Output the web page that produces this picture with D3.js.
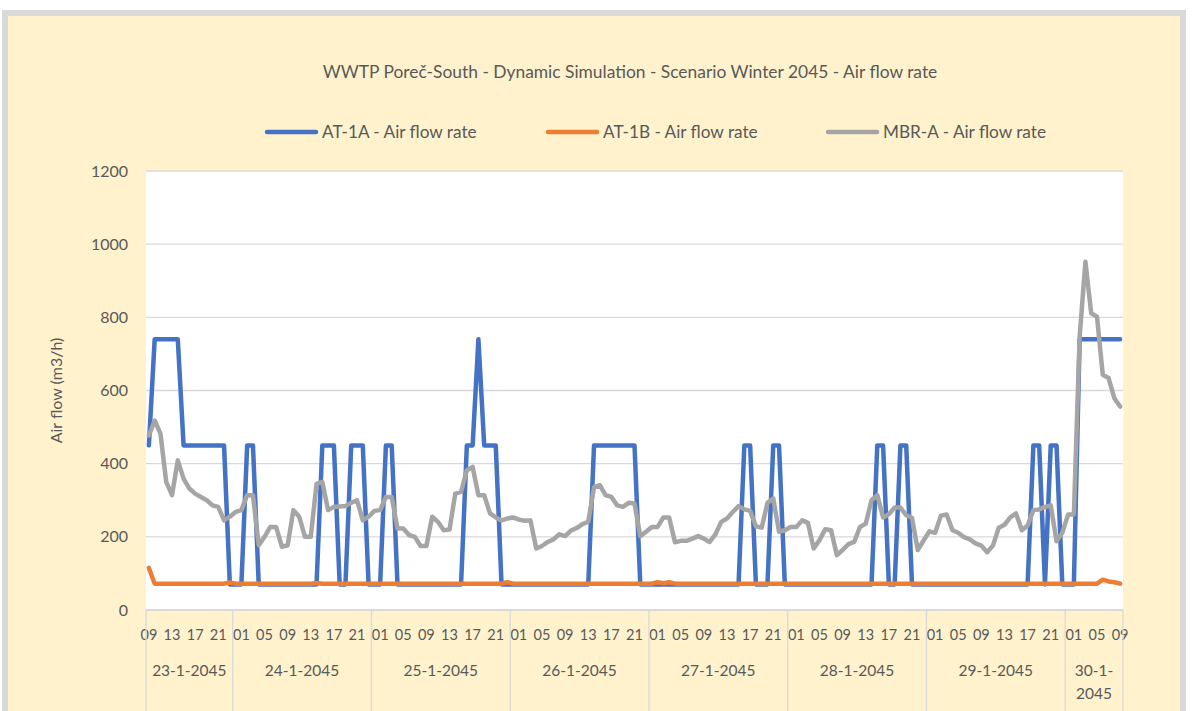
<!DOCTYPE html>
<html>
<head>
<meta charset="utf-8">
<script src="https://cdn.jsdelivr.net/npm/d3@7"></script>
<style>
  body { margin: 0; background: #ffffff; }
  text { font-family: Lato, "Open Sans", sans-serif; fill: #595959; }
</style>
</head>
<body>
<svg id="chart" width="1192" height="711"></svg>
<script>
// categories: hourly from 23-1-2045 09:00 to 30-1-2045 09:00
var days = ["23-1-2045", "24-1-2045", "25-1-2045", "26-1-2045", "27-1-2045", "28-1-2045", "29-1-2045", "30-1-2045"];
var firstHour = 9, lastHour = 9;
var yTicks = [0, 200, 400, 600, 800, 1000, 1200];

var seriesNames = ["AT-1A - Air flow rate", "AT-1B - Air flow rate", "MBR-A - Air flow rate"];
var seriesColors = ["#4472C4", "#ED7D31", "#A5A5A5"];

var at1a = [
  450, 740, 740, 740, 740, 740, 450, 450, 450, 450, 450, 450, 450, 450, 70, 70,
  70, 450, 450, 70, 70, 70, 70, 70, 70, 70, 70, 70, 70, 70, 450, 450,
  450, 70, 70, 450, 450, 450, 70, 70, 70, 450, 450, 70, 70, 70, 70, 70,
  70, 70, 70, 70, 70, 70, 70, 450, 450, 740, 450, 450, 450, 70, 70, 70,
  70, 70, 70, 70, 70, 70, 70, 70, 70, 70, 70, 70, 70, 450, 450, 450,
  450, 450, 450, 450, 450, 70, 70, 70, 70, 70, 70, 70, 70, 70, 70, 70,
  70, 70, 70, 70, 70, 70, 70, 450, 450, 70, 70, 70, 450, 450, 70, 70,
  70, 70, 70, 70, 70, 70, 70, 70, 70, 70, 70, 70, 70, 70, 450, 450,
  70, 70, 450, 450, 70, 70, 70, 70, 70, 70, 70, 70, 70, 70, 70, 70,
  70, 70, 70, 70, 70, 70, 70, 70, 70, 450, 450, 70, 450, 450, 70, 70,
  70, 740, 740, 740, 740, 740, 740, 740, 740
];

var at1b = [
  115, 72, 72, 72, 72, 72, 72, 72, 72, 72, 72, 72, 72, 72, 75, 72,
  72, 72, 72, 72, 72, 72, 72, 72, 72, 72, 72, 72, 72, 74, 72, 72,
  72, 72, 72, 72, 72, 72, 72, 72, 72, 72, 72, 72, 72, 72, 72, 72,
  72, 72, 72, 72, 72, 72, 72, 72, 72, 72, 72, 72, 72, 72, 76, 72,
  72, 72, 72, 72, 72, 72, 72, 72, 72, 72, 72, 72, 72, 72, 72, 72,
  72, 72, 72, 72, 72, 72, 72, 72, 76, 73, 76, 72, 72, 72, 72, 72,
  72, 72, 72, 72, 72, 72, 72, 72, 72, 72, 72, 72, 72, 72, 72, 72,
  72, 72, 72, 72, 72, 72, 72, 72, 72, 72, 72, 72, 72, 72, 72, 72,
  72, 72, 72, 72, 72, 72, 72, 72, 72, 72, 72, 72, 72, 72, 72, 72,
  72, 72, 72, 72, 72, 72, 72, 72, 72, 72, 72, 72, 72, 72, 72, 72,
  72, 72, 72, 72, 72, 83, 78, 76, 72
];

var mbrA = [
  477, 518, 482, 350, 314, 409, 359, 332, 318, 309, 300, 286, 282, 245, 255, 268,
  273, 314, 314, 177, 200, 227, 227, 173, 177, 273, 255, 200, 200, 345, 350, 273,
  282, 283, 284, 293, 300, 245, 255, 271, 273, 309, 309, 223, 223, 205, 200, 175,
  175, 255, 241, 218, 220, 318, 323, 382, 391, 314, 314, 264, 253, 245, 250, 253,
  247, 244, 245, 168, 175, 186, 193, 207, 202, 217, 224, 235, 241, 336, 341, 314,
  309, 286, 282, 293, 291, 202, 214, 227, 227, 253, 253, 185, 189, 189, 195, 202,
  195, 186, 207, 241, 250, 268, 284, 275, 271, 229, 225, 293, 305, 214, 218, 227,
  227, 245, 238, 168, 191, 221, 218, 150, 164, 180, 186, 227, 236, 300, 314, 253,
  262, 280, 280, 259, 252, 164, 190, 215, 211, 258, 261, 218, 211, 199, 193, 182,
  176, 158, 176, 225, 233, 253, 264, 218, 231, 273, 275, 282, 286, 188, 211, 261,
  261, 747, 952, 811, 802, 643, 634, 579, 556
];

// build hourly categories
var cats = [];
days.forEach(function (d, di) {
  var h0 = di === 0 ? firstHour : 0;
  var h1 = di === days.length - 1 ? lastHour : 23;
  for (var h = h0; h <= h1; h++) cats.push({ day: d, hour: h, key: d + " " + h });
});

var svg = d3.select("#chart"),
    plot = { left: 146, right: 1123, top: 171, bottom: 610 };

// chart frame
svg.append("rect")
    .attr("x", 5).attr("y", 13)
    .attr("width", 1178).attr("height", 720)
    .attr("fill", "#FFF2CC")
    .attr("stroke", "#D9D9D9")
    .attr("stroke-width", 6);

svg.append("rect")
    .attr("x", plot.left).attr("y", plot.top)
    .attr("width", plot.right - plot.left)
    .attr("height", plot.bottom - plot.top)
    .attr("fill", "#ffffff");

var x = d3.scalePoint()
    .domain(cats.map(function (c) { return c.key; }))
    .range([plot.left, plot.right])
    .padding(0.5);
var step = x.step();

var y = d3.scaleLinear()
    .domain([0, 1200])
    .range([plot.bottom, plot.top]);

// gridlines
svg.append("g")
    .selectAll("line")
    .data(yTicks)
    .enter().append("line")
    .attr("x1", plot.left).attr("x2", plot.right)
    .attr("y1", function (d) { return y(d); })
    .attr("y2", function (d) { return y(d); })
    .attr("stroke", "#D9D9D9")
    .attr("stroke-width", 1.3);

// y axis labels
svg.append("g")
    .selectAll("text")
    .data(yTicks)
    .enter().append("text")
    .attr("x", 128)
    .attr("y", function (d) { return y(d) + 5.5; })
    .attr("text-anchor", "end")
    .style("font-size", "16px")
    .text(function (d) { return d; });

svg.append("text")
    .attr("transform", "translate(62," + ((plot.top + plot.bottom) / 2) + ") rotate(-90)")
    .attr("text-anchor", "middle")
    .style("font-size", "16px")
    .text("Air flow (m3/h)");

// x axis: hour labels every 4 categories
var hourTicks = cats.filter(function (c, i) { return i % 4 === 0; });
svg.append("g")
    .selectAll("text")
    .data(hourTicks)
    .enter().append("text")
    .attr("x", function (c) { return x(c.key); })
    .attr("y", 640)
    .attr("text-anchor", "middle")
    .style("font-size", "14.5px")
    .text(function (c) { return (c.hour < 10 ? "0" : "") + c.hour; });

// day groups
var dayBounds = days.map(function (d) {
  var cs = cats.filter(function (c) { return c.day === d; });
  return {
    day: d,
    x0: x(cs[0].key) - step / 2,
    x1: x(cs[cs.length - 1].key) + step / 2
  };
});

var sepX = [plot.left].concat(dayBounds.map(function (b) { return b.x1; }));
svg.append("g")
    .selectAll("line")
    .data(sepX)
    .enter().append("line")
    .attr("x1", function (d) { return d; })
    .attr("x2", function (d) { return d; })
    .attr("y1", plot.bottom).attr("y2", 711)
    .attr("stroke", "#D9D9D9")
    .attr("stroke-width", 1.3);

var dayText = svg.append("g")
    .selectAll("text")
    .data(dayBounds)
    .enter().append("text")
    .attr("x", function (b) { return (b.x0 + b.x1) / 2; })
    .attr("y", 676)
    .attr("text-anchor", "middle")
    .style("font-size", "15.5px");

dayText.each(function (b) {
  var t = d3.select(this);
  if (b.x1 - b.x0 < 80) {
    var parts = b.day.split("-");
    t.append("tspan").attr("x", (b.x0 + b.x1) / 2).text(parts[0] + "-" + parts[1] + "-");
    t.append("tspan").attr("x", (b.x0 + b.x1) / 2).attr("dy", 23).text(parts[2]);
  } else {
    t.text(b.day);
  }
});

// bottom axis line
svg.append("line")
    .attr("x1", plot.left).attr("x2", plot.right)
    .attr("y1", plot.bottom).attr("y2", plot.bottom)
    .attr("stroke", "#D9D9D9")
    .attr("stroke-width", 1.3);

// series lines
var series = [at1a, at1b, mbrA];
var line = d3.line()
    .x(function (d, i) { return x(cats[i].key); })
    .y(function (d) { return y(d); });

svg.append("g")
    .selectAll("path")
    .data([0, 2, 1])
    .enter().append("path")
    .attr("d", function (k) { return line(series[k]); })
    .attr("fill", "none")
    .attr("stroke", function (k) { return seriesColors[k]; })
    .attr("stroke-width", 4.5)
    .attr("stroke-linejoin", "round")
    .attr("stroke-linecap", "round");

// title
svg.append("text")
    .attr("x", 630)
    .attr("y", 78)
    .attr("text-anchor", "middle")
    .style("font-size", "17.4px")
    .text("WWTP Poreč-South - Dynamic Simulation - Scenario Winter 2045 - Air flow rate");

// legend
var legendX = [265, 546, 826];
var legend = svg.append("g")
    .selectAll("g")
    .data(seriesNames)
    .enter().append("g")
    .attr("transform", function (d, i) { return "translate(" + legendX[i] + ",132)"; });

legend.append("line")
    .attr("x1", 2).attr("x2", 51)
    .attr("stroke", function (d, i) { return seriesColors[i]; })
    .attr("stroke-width", 4.5)
    .attr("stroke-linecap", "round");

legend.append("text")
    .attr("x", 57)
    .attr("y", 6)
    .style("font-size", "17.2px")
    .text(function (d) { return d; });
</script>
</body>
</html>
